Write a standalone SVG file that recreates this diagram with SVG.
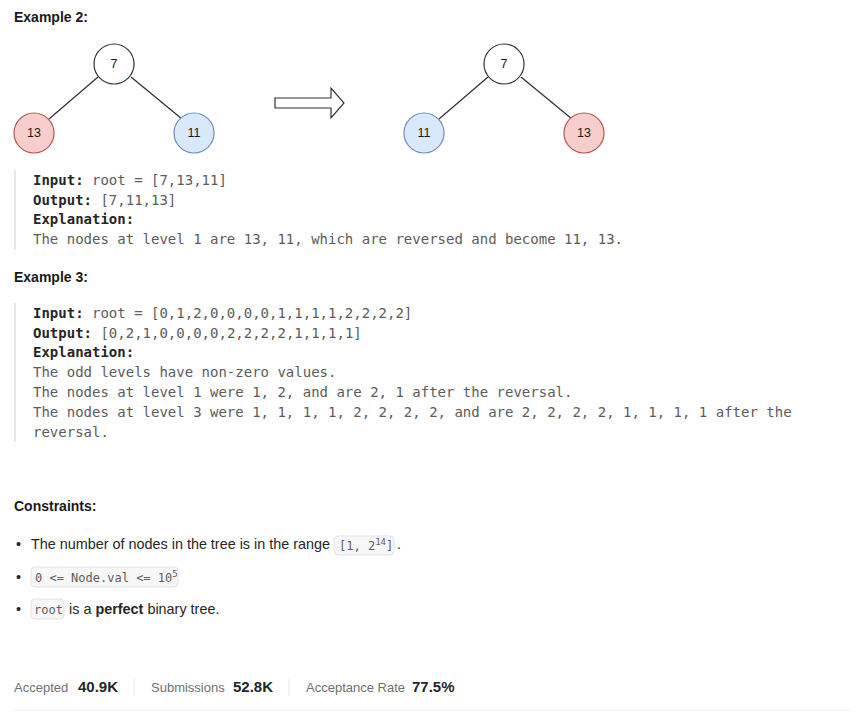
<svg xmlns="http://www.w3.org/2000/svg" width="865" height="713" viewBox="0 0 865 713">
<style>
.h{font-family:"Liberation Sans",Arial,sans-serif;font-weight:bold;font-size:14px;fill:#1a1a1a}
.m{font-family:"DejaVu Sans Mono",monospace;font-size:14px;fill:#5c5c5c}
.mb{fill:#262626;font-weight:bold}
.t{font-family:"Liberation Sans",Arial,sans-serif;font-size:14.4px;fill:#262626}
.c{font-family:"DejaVu Sans Mono",monospace;font-size:12px;fill:#5c5c5c}
.cb{fill:#f7f7f8;stroke:#e3e3e3;stroke-width:1}
.n{font-family:"Liberation Sans",Arial,sans-serif;font-size:12.5px;fill:#1a1a1a;text-anchor:middle}
.f{font-family:"Liberation Sans",Arial,sans-serif;font-size:13px;fill:#707070}
.fv{font-family:"Liberation Sans",Arial,sans-serif;font-size:15px;fill:#262626;font-weight:bold}
.edge{stroke:#333;stroke-width:1.3;fill:none}
.bar{stroke:#e6e6e6;stroke-width:2}
</style>
<rect width="865" height="713" fill="#fff"/>
<text class="h" x="14" y="22">Example 2:</text>

<g id="connectors">
<line class="edge" x1="98" y1="77" x2="49" y2="119"/>
<line class="edge" x1="131" y1="77" x2="182" y2="119"/>
<line class="edge" x1="488" y1="77" x2="439" y2="119"/>
<line class="edge" x1="521" y1="77" x2="572" y2="119"/>
</g>
<g id="node-L7"><circle cx="114" cy="64" r="20" fill="#fff" stroke="#333" stroke-width="1.2"/><text class="n" x="114" y="68">7</text></g>
<g id="node-L13"><circle cx="34" cy="133" r="20" fill="#f8cecc" stroke="#b85450" stroke-width="1.2"/><text class="n" x="34" y="137">13</text></g>
<g id="node-L11"><circle cx="194" cy="133" r="20" fill="#dae8fc" stroke="#6c8ebf" stroke-width="1.2"/><text class="n" x="194" y="137">11</text></g>
<g id="arrow"><path d="M275 98 H331 V88 L344 103 L331 118 V108 H275 Z" fill="#fff" stroke="#333" stroke-width="1.2"/></g>
<g id="node-R7"><circle cx="504" cy="64" r="20" fill="#fff" stroke="#333" stroke-width="1.2"/><text class="n" x="504" y="68">7</text></g>
<g id="node-R11"><circle cx="424" cy="133" r="20" fill="#dae8fc" stroke="#6c8ebf" stroke-width="1.2"/><text class="n" x="424" y="137">11</text></g>
<g id="node-R13"><circle cx="584" cy="133" r="20" fill="#f8cecc" stroke="#b85450" stroke-width="1.2"/><text class="n" x="584" y="137">13</text></g>

<line class="bar" x1="15" y1="170" x2="15" y2="250"/>
<text class="m" x="33" y="185"><tspan class="mb">Input:</tspan> root = [7,13,11]</text>
<text class="m" x="33" y="205"><tspan class="mb">Output:</tspan> [7,11,13]</text>
<text class="m mb" x="33" y="224">Explanation:</text>
<text class="m" x="33" y="244">The nodes at level 1 are 13, 11, which are reversed and become 11, 13.</text>

<text class="h" x="14" y="282">Example 3:</text>
<line class="bar" x1="15" y1="303" x2="15" y2="442"/>
<text class="m" x="33" y="318"><tspan class="mb">Input:</tspan> root = [0,1,2,0,0,0,0,1,1,1,1,2,2,2,2]</text>
<text class="m" x="33" y="338"><tspan class="mb">Output:</tspan> [0,2,1,0,0,0,0,2,2,2,2,1,1,1,1]</text>
<text class="m mb" x="33" y="357">Explanation:</text>
<text class="m" x="33" y="377">The odd levels have non-zero values.</text>
<text class="m" x="33" y="397">The nodes at level 1 were 1, 2, and are 2, 1 after the reversal.</text>
<text class="m" x="33" y="417">The nodes at level 3 were 1, 1, 1, 1, 2, 2, 2, 2, and are 2, 2, 2, 2, 1, 1, 1, 1 after the</text>
<text class="m" x="33" y="437">reversal.</text>

<text class="h" x="14" y="511">Constraints:</text>
<text class="t" x="16" y="549">•</text>
<text class="t" x="31" y="549" textLength="299" lengthAdjust="spacingAndGlyphs">The number of nodes in the tree is in the range</text>
<rect class="cb" x="334" y="536" width="60" height="19" rx="4"/>
<text class="c" x="339" y="550">[1, 2<tspan font-size="9" dy="-5">14</tspan><tspan dy="5">]</tspan></text>
<text class="t" x="397" y="549">.</text>

<text class="t" x="16" y="582">•</text>
<rect class="cb" x="31" y="567" width="147" height="20" rx="4"/>
<text class="c" x="35" y="582">0 &lt;= Node.val &lt;= 10<tspan font-size="9" dy="-5">5</tspan></text>

<text class="t" x="16" y="614">•</text>
<rect class="cb" x="31" y="599" width="33" height="20" rx="4"/>
<text class="c" x="34" y="614">root</text>
<text class="t" x="69" y="614">is a <tspan font-weight="bold">perfect</tspan> binary tree.</text>

<text class="f" x="14" y="692">Accepted</text>
<text class="fv" x="78" y="692">40.9K</text>
<line x1="134" y1="679" x2="134" y2="696" stroke="#e6e6e6"/>
<text class="f" x="151" y="692">Submissions</text>
<text class="fv" x="233" y="692">52.8K</text>
<line x1="289" y1="679" x2="289" y2="696" stroke="#e6e6e6"/>
<text class="f" x="306" y="692">Acceptance Rate</text>
<text class="fv" x="412" y="692">77.5%</text>
<line x1="14" y1="710" x2="850" y2="710" stroke="#eeeeee"/>
</svg>
